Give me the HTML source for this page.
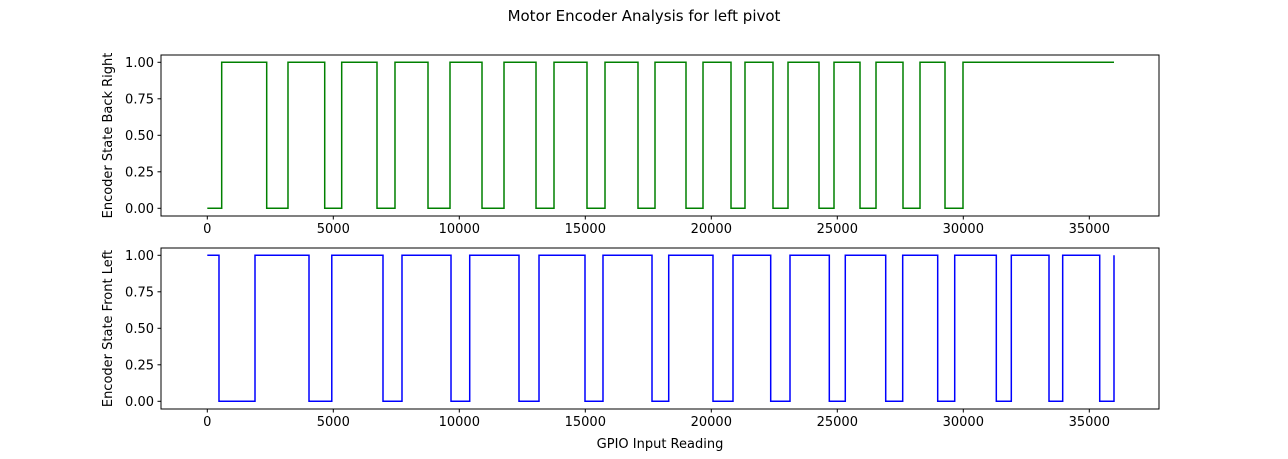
<!DOCTYPE html>
<html><head><meta charset="utf-8"><style>
body{margin:0;background:#fff;}
svg{display:block;font-family:"DejaVu Sans","Liberation Sans",sans-serif;}
</style></head><body>
<svg id="chart" width="1288" height="459">
<text x="644" y="21" font-size="15" text-anchor="middle">Motor Encoder Analysis for left pivot</text>
</svg>
<script>
const greenTimes=[0,571,2357,3202,4659,5333,6734,7448,8758,9631,10901,11774,13044,13758,15067,15782,17091,17766,18996,19671,20782,21337,22448,23044,24274,24869,25901,26536,27607,28282,29274,29988,35980];
const greenStates=[0,1,0,1,0,1,0,1,0,1,0,1,0,1,0,1,0,1,0,1,0,1,0,1,0,1,0,1,0,1,0,1,1];
const blueTimes=[0,464,1893,4036,4940,6972,7726,9671,10413,12369,13163,14988,15702,17647,18310,20067,20861,22357,23123,24683,25317,26921,27595,28984,29659,31310,31905,33401,33944,35413,35980];
const blueStates=[1,0,1,0,1,0,1,0,1,0,1,0,1,0,1,0,1,0,1,0,1,0,1,0,1,0,1,0,1,0,1];
const xTicks=[0,5000,10000,15000,20000,25000,30000,35000];
const yTicks=[0,0.25,0.5,0.75,1.0];
const yTickLabels=["0.00","0.25","0.50","0.75","1.00"];
const NS="http://www.w3.org/2000/svg";
const svg=document.getElementById('chart');
const L=161,R=1159;
const xs=v=>207.3+v*0.0252;
function mk(t,a,p){const e=document.createElementNS(NS,t);for(const k in a)e.setAttribute(k,a[k]);(p||svg).appendChild(e);return e;}
function panel(top,bot,times,states,color,ylabel,name,xlabel){
  const y0=top+7.3+146, ys=v=>y0-v*146;
  const g=mk('g',{});
  
  
  let d='';
  for(let i=0;i<times.length;i++){
    const x=xs(times[i]),y=ys(states[i]);
    if(i===0)d+='M'+x+' '+y;else{d+=' L'+x+' '+ys(states[i-1])+' L'+x+' '+y;}
  }
  const p=mk('path',{d:d,fill:'none',stroke:color,'stroke-width':1.5},g);
  
  
  const fr=mk('rect',{x:L,y:top,width:R-L,height:bot-top,fill:'none',stroke:'#000','stroke-width':1},g);
  
  
  xTicks.forEach(v=>{
    const x=xs(v);
    mk('line',{x1:x,x2:x,y1:bot,y2:bot+3.5,stroke:'#000'},g);
    const t=mk('text',{x:x,y:bot+17,'font-size':13,'text-anchor':'middle'},g);
    t.textContent=v;
    
    
  });
  yTicks.forEach((v,i)=>{
    const y=ys(v);
    mk('line',{x1:L,x2:L-3.5,y1:y,y2:y,stroke:'#000'},g);
    const t=mk('text',{x:L-7,y:y+4.5,'font-size':13,'text-anchor':'end'},g);
    t.textContent=yTickLabels[i];
    
    
  });
  const yl=mk('text',{x:0,y:0,'font-size':13,'text-anchor':'middle',transform:`translate(112,${(top+bot)/2}) rotate(-90)`},g);
  yl.textContent=ylabel;
  
  
  if(xlabel){
    const xl=mk('text',{x:(L+R)/2,y:bot+39,'font-size':13,'text-anchor':'middle'},g);
    xl.textContent=xlabel;
    
    
  }
}
panel(55,216,greenTimes,greenStates,'#008000','Encoder State Back Right','back-right',null);
panel(248,409,blueTimes,blueStates,'#0000ff','Encoder State Front Left','front-left','GPIO Input Reading');
</script>
</body></html>
